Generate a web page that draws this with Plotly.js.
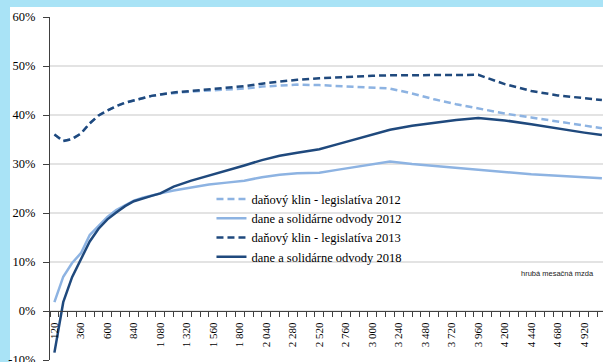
<!DOCTYPE html>
<html>
<head>
<meta charset="utf-8">
<script src="https://cdn.plot.ly/plotly-3.0.1.min.js"></script>
<style>
  html, body { margin: 0; padding: 0; width: 603px; height: 362px; overflow: hidden; background: #a9e3f6; }
  #panel { position: absolute; left: 10px; top: 7px; width: 593px; height: 355px; background: #ffffff; }
  #chart { position: absolute; left: 0; top: 0; width: 603px; height: 362px; }
</style>
</head>
<body>
<div id="panel"></div>
<div id="chart"></div>
<script>
// Gross monthly wage (EUR)
const wage = [120, 200, 280, 360, 440, 520, 600, 680, 760, 840, 920, 1000, 1080, 1200, 1360, 1520, 1680, 1840,
              2000, 2160, 2320, 2520, 2680, 2840, 3000, 3160, 3360, 3560, 3760, 3960, 4200, 4440, 4680, 4920, 5080];

// Tax wedge, legislation 2012 (%)
const wedge2012 = [36.0, 34.7, 35.1, 36.2, 38.3, 39.9, 40.9, 41.8, 42.5, 43.0, 43.5, 43.9, 44.2, 44.5, 44.8, 45.0, 45.2, 45.4,
                   45.8, 46.0, 46.2, 46.1, 45.9, 45.7, 45.6, 45.4, 44.4, 43.2, 42.2, 41.3, 40.3, 39.5, 38.7, 37.9, 37.3];

// Taxes and solidarity levies 2012 (%)
const levies2012 = [1.8, 7.0, 9.8, 11.8, 15.5, 17.4, 19.2, 20.6, 21.6, 22.5, 23.1, 23.6, 24.0, 24.6, 25.2, 25.8, 26.2, 26.6,
                    27.3, 27.8, 28.1, 28.2, 28.8, 29.4, 29.9, 30.5, 30.0, 29.6, 29.2, 28.8, 28.3, 27.9, 27.6, 27.3, 27.1];

// Tax wedge, legislation 2013 (%)
const wedge2013 = [36.0, 34.7, 35.1, 36.2, 38.3, 39.9, 40.9, 41.8, 42.5, 43.0, 43.5, 43.9, 44.2, 44.6, 44.9, 45.2, 45.5, 45.9,
                   46.4, 46.8, 47.2, 47.5, 47.7, 47.9, 48.0, 48.1, 48.15, 48.2, 48.2, 48.2, 46.3, 44.9, 44.0, 43.4, 43.05];

// Taxes and solidarity levies 2018 (%)
const levies2018 = [-8.5, 1.8, 6.9, 10.6, 14.2, 16.8, 18.7, 20.1, 21.4, 22.4, 23.0, 23.5, 24.0, 25.4, 26.6, 27.6, 28.6, 29.7,
                    30.8, 31.7, 32.3, 33.0, 34.0, 35.0, 35.9, 37.0, 37.8, 38.4, 39.0, 39.4, 38.9, 38.1, 37.2, 36.4, 35.9];

const seriesNames = [
  'daňový klin - legislatíva 2012',
  'dane a solidárne odvody 2012',
  'daňový klin - legislatíva 2013',
  'dane a solidárne odvody 2018'
];

const xTickVals = [120, 360, 600, 840, 1080, 1320, 1560, 1800, 2040, 2280, 2520, 2760, 3000, 3240, 3480, 3720, 3960, 4200, 4440, 4680, 4920];
const xTickText = ['120', '360', '600', '840', '1 080', '1 320', '1 560', '1 800', '2 040', '2 280', '2 520', '2 760',
                   '3 000', '3 240', '3 480', '3 720', '3 960', '4 200', '4 440', '4 680', '4 920'];
const yTickVals = [-10, 0, 10, 20, 30, 40, 50, 60];
const yTickText = ['-10%', '0%', '10%', '20%', '30%', '40%', '50%', '60%'];

const LIGHT = '#8db3e2';
const DARK = '#1f497d';
const DASH = '7px,4px';

function series(y, name, color, dash, group) {
  return {
    type: 'scatter', mode: 'lines', x: wage, y: y, name: name, legendgroup: group,
    line: { color: color, width: 2.5, dash: dash },
    hoverinfo: 'skip'
  };
}

const traces = [
  series(wedge2012, seriesNames[0], LIGHT, DASH, 'a'),
  series(levies2012, seriesNames[1], LIGHT, 'solid', 'b'),
  series(wedge2013, seriesNames[2], DARK, DASH, 'c'),
  series(levies2018, seriesNames[3], DARK, 'solid', 'd')
];

const serif = 'Liberation Serif, DejaVu Serif, serif';

const layout = {
  width: 603, height: 362,
  margin: { l: 50, r: 0, t: 17, b: 2, pad: 0 },
  paper_bgcolor: 'rgba(0,0,0,0)',
  plot_bgcolor: 'rgba(0,0,0,0)',
  showlegend: true,
  legend: {
    x: 0.292, y: 0.512, xanchor: 'left', yanchor: 'top',
    bgcolor: 'rgba(0,0,0,0)', borderwidth: 0,
    font: { family: serif, size: 12.5, color: '#000' },
    itemwidth: 30, tracegroupgap: 2.3, traceorder: 'normal'
  },
  xaxis: {
    type: 'linear', range: [80, 5090],
    anchor: 'free', position: 10 / 70,
    showline: true, linecolor: '#404040', linewidth: 1.2,
    showgrid: false, zeroline: false,
    tickmode: 'array', tickvals: xTickVals, ticktext: xTickText,
    ticks: 'outside', ticklen: 6, tickcolor: 'rgba(0,0,0,0)',
    tickangle: -90,
    tickfont: { family: serif, size: 11, color: '#000' },
    minor: { tick0: 80, dtick: 80, ticks: 'outside', ticklen: 5, tickwidth: 1, tickcolor: '#404040', showgrid: false }
  },
  yaxis: {
    range: [-10, 60],
    tickmode: 'array', tickvals: yTickVals, ticktext: yTickText,
    showline: true, linecolor: '#404040', linewidth: 1.2,
    ticks: 'outside', ticklen: 6, tickcolor: '#404040', tickwidth: 1,
    showgrid: true, gridcolor: '#e3e3e3', gridwidth: 1.5,
    zeroline: false,
    ticklabelstandoff: 5,
    ticklabeloverflow: 'allow',
    tickfont: { family: serif, size: 12.5, color: '#000' }
  },
  annotations: [{
    text: 'hrubá mesačná mzda', xref: 'x', yref: 'y', x: 4680, y: 7.7,
    showarrow: false, xanchor: 'center', yanchor: 'middle',
    font: { family: 'Liberation Sans, DejaVu Sans, sans-serif', size: 7.5, color: '#222' }
  }]
};

Plotly.newPlot('chart', traces, layout, { displayModeBar: false, staticPlot: true });
</script>
</body>
</html>
